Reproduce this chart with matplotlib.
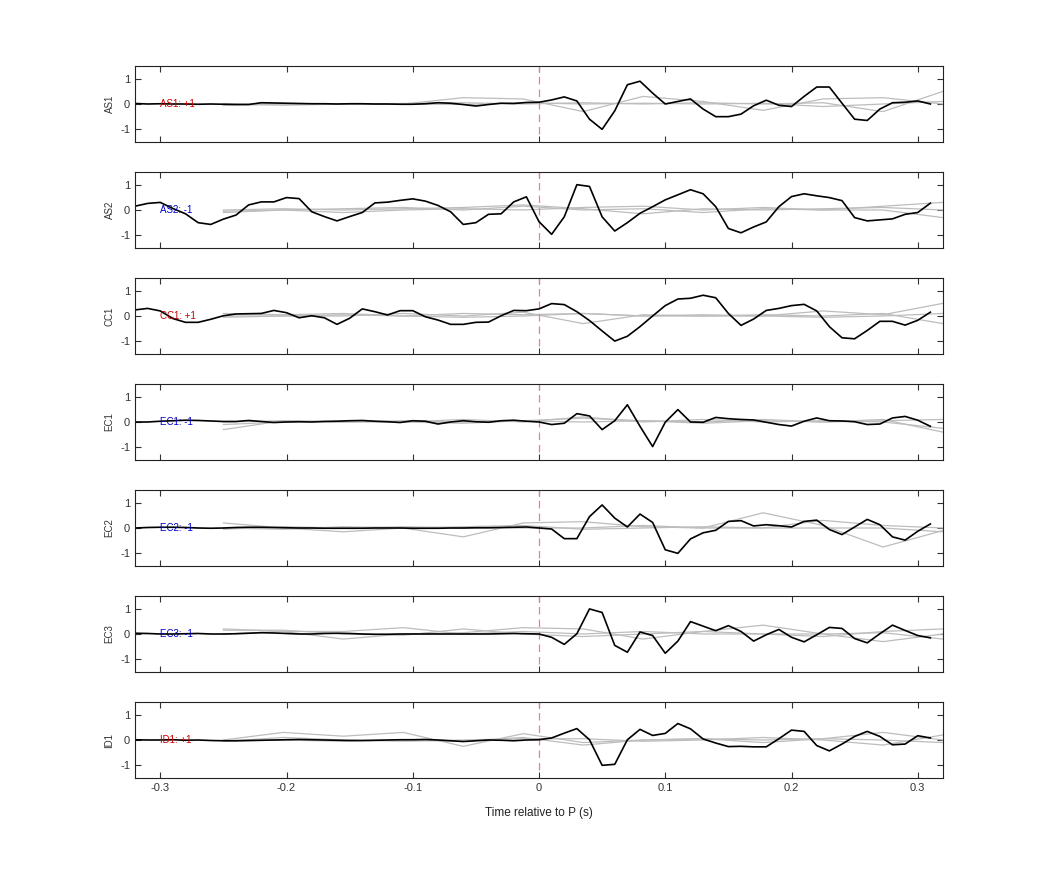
import numpy as np
import matplotlib.pyplot as plt

plt.rcParams['font.family'] = ['Liberation Sans', 'DejaVu Sans']
plt.rcParams['axes.unicode_minus'] = False

# time axis of the black traces (s), 10 ms samples
t = np.round(np.arange(-0.32, 0.315, 0.01), 2)
# time axis of the grey traces
tg = np.linspace(-0.25, 0.32, 13)

stations = ['AS1', 'AS2', 'CC1', 'EC1', 'EC2', 'EC3', 'ID1']
labels = ['AS1: +1', 'AS2: -1', 'CC1: +1', 'EC1: -1', 'EC2: -1', 'EC3: -1', 'ID1: +1']
label_colors = ['#cc0000', '#0000cc', '#cc0000', '#0000cc', '#0000cc', '#0000cc', '#cc0000']

as1 = [0.02, 0.0, 0.01, 0.0, 0.0, -0.01, 0.0, -0.01, -0.02, -0.02, 0.05, 0.04, 0.03, 0.02, 0.01, 0.01,
       0.0, 0.01, 0.01, 0.0, 0.0, -0.01, -0.01, 0.01, 0.05, 0.03, -0.02, -0.08, -0.02, 0.03, 0.02, 0.06,
       0.07, 0.16, 0.28, 0.12, -0.6, -1.0, -0.27, 0.76, 0.9, 0.43, 0.0, 0.1, 0.2, -0.2, -0.5, -0.5,
       -0.4, -0.07, 0.15, -0.05, -0.1, 0.3, 0.67, 0.67, 0.03, -0.6, -0.65, -0.2, 0.05, 0.07, 0.12, 0.0]
as2 = [0.15, 0.26, 0.3, 0.06, -0.15, -0.5, -0.57, -0.36, -0.2, 0.2, 0.32, 0.32, 0.49, 0.45, -0.07, -0.26,
       -0.43, -0.26, -0.1, 0.28, 0.31, 0.38, 0.44, 0.35, 0.18, -0.07, -0.57, -0.5, -0.17, -0.15, 0.32, 0.52,
       -0.46, -0.96, -0.27, 1.0, 0.93, -0.27, -0.83, -0.5, -0.13, 0.13, 0.4, 0.6, 0.8, 0.64, 0.13, -0.73,
       -0.9, -0.67, -0.47, 0.13, 0.53, 0.64, 0.56, 0.49, 0.37, -0.3, -0.43, -0.39, -0.35, -0.17, -0.1, 0.27]
cc1 = [0.24, 0.3, 0.2, -0.1, -0.25, -0.25, -0.13, 0.01, 0.08, 0.09, 0.1, 0.22, 0.13, -0.07, 0.01, -0.07,
       -0.33, -0.09, 0.28, 0.17, 0.04, 0.21, 0.21, -0.03, -0.16, -0.33, -0.33, -0.25, -0.24, 0.01, 0.22, 0.21,
       0.28, 0.49, 0.45, 0.17, -0.18, -0.59, -0.99, -0.8, -0.42, 0.0, 0.41, 0.67, 0.7, 0.82, 0.72, 0.1,
       -0.37, -0.12, 0.22, 0.3, 0.41, 0.46, 0.2, -0.42, -0.86, -0.9, -0.57, -0.21, -0.21, -0.36, -0.17, 0.15]
ec1 = [0.0, 0.0, 0.03, 0.05, 0.07, 0.06, 0.04, 0.02, 0.02, 0.06, 0.02, -0.02, 0.0, 0.01, 0.0, 0.02,
       0.03, 0.05, 0.06, 0.03, 0.01, -0.02, 0.05, 0.03, -0.08, 0.0, 0.05, 0.01, -0.01, 0.05, 0.07, 0.03,
       0.0, -0.1, -0.05, 0.33, 0.24, -0.3, 0.05, 0.68, -0.17, -0.97, -0.01, 0.49, 0.0, -0.01, 0.18, 0.13,
       0.1, 0.08, -0.01, -0.1, -0.16, 0.03, 0.16, 0.05, 0.04, 0.01, -0.1, -0.08, 0.16, 0.22, 0.07, -0.17]
ec2 = [0.0, 0.02, 0.03, 0.03, 0.02, 0.0, -0.01, 0.0, 0.02, 0.03, 0.03, 0.02, 0.01, 0.0, 0.0, -0.01,
       -0.01, -0.01, -0.01, 0.0, 0.0, 0.0, -0.01, -0.01, -0.01, 0.0, 0.0, 0.01, 0.01, 0.02, 0.03, 0.04,
       0.0, -0.04, -0.42, -0.42, 0.45, 0.91, 0.39, 0.04, 0.55, 0.22, -0.86, -1.0, -0.43, -0.19, -0.09, 0.26,
       0.29, 0.08, 0.13, 0.09, 0.04, 0.26, 0.31, -0.06, -0.26, 0.04, 0.34, 0.13, -0.35, -0.48, -0.13, 0.16]
ec3 = [0.03, 0.02, 0.0, 0.0, 0.01, 0.02, 0.0, 0.0, 0.01, 0.03, 0.05, 0.04, 0.02, 0.0, 0.0, 0.02,
       0.03, 0.02, 0.0, -0.01, -0.01, 0.0, 0.0, 0.0, 0.0, 0.0, 0.0, 0.0, 0.0, 0.01, 0.02, 0.01,
       0.0, -0.13, -0.41, 0.01, 0.99, 0.85, -0.45, -0.72, 0.08, -0.06, -0.76, -0.28, 0.49, 0.31, 0.13, 0.33,
       0.1, -0.28, -0.03, 0.18, -0.13, -0.31, -0.03, 0.26, 0.22, -0.18, -0.35, 0.01, 0.35, 0.14, -0.06, -0.15]
id1 = [0.01, 0.0, 0.0, 0.01, -0.01, 0.0, -0.02, -0.03, -0.03, -0.02, -0.01, 0.0, 0.01, 0.02, 0.01, 0.0,
       -0.01, -0.02, -0.02, -0.01, 0.0, 0.01, 0.01, 0.02, 0.0, -0.03, -0.06, -0.03, 0.0, -0.01, -0.03, 0.0,
       0.01, 0.08, 0.27, 0.45, 0.01, -1.0, -0.96, 0.01, 0.42, 0.18, 0.26, 0.65, 0.44, 0.04, -0.12, -0.26,
       -0.25, -0.27, -0.27, 0.05, 0.39, 0.34, -0.22, -0.43, -0.16, 0.14, 0.34, 0.14, -0.19, -0.16, 0.17, 0.08]
black = [as1, as2, cc1, ec1, ec2, ec3, id1]

# grey traces, values at tg
grey = [
    [[0.0, 0.0, 0.0, 0.0, 0.25, 0.2, -0.3, 0.3, 0.1, -0.25, 0.2, 0.25, 0.0],
     [0.0, -0.05, 0.0, 0.02, 0.05, 0.0, 0.05, 0.0, 0.05, 0.0, 0.05, -0.3, 0.5],
     [-0.05, 0.0, 0.0, 0.0, -0.02, 0.05, 0.0, 0.03, 0.0, 0.03, -0.1, 0.0, 0.1]],
    [[-0.05, 0.0, -0.1, 0.0, 0.05, 0.0, 0.1, 0.15, 0.0, 0.1, 0.0, 0.15, 0.3],
     [0.0, 0.05, 0.0, 0.05, 0.1, 0.2, 0.05, -0.15, 0.05, 0.0, 0.05, 0.1, 0.0],
     [-0.1, 0.0, 0.05, 0.1, 0.0, 0.15, 0.0, 0.05, -0.1, 0.05, 0.0, 0.0, -0.3]],
    [[0.1, 0.05, 0.1, 0.0, 0.1, 0.05, 0.1, 0.0, 0.0, 0.0, 0.2, 0.05, 0.5],
     [0.0, 0.0, 0.0, 0.1, 0.0, 0.15, -0.3, 0.05, 0.0, 0.05, 0.0, 0.1, -0.3],
     [-0.05, 0.0, 0.05, 0.0, -0.05, 0.0, 0.1, 0.0, 0.05, 0.0, -0.05, 0.0, 0.1]],
    [[-0.3, 0.05, 0.0, 0.05, 0.0, 0.05, 0.15, 0.05, -0.05, 0.05, 0.0, 0.1, -0.4],
     [-0.1, 0.0, 0.05, 0.0, 0.1, 0.0, 0.2, 0.0, 0.1, 0.0, 0.05, 0.0, -0.25],
     [0.0, 0.05, 0.0, 0.0, -0.05, 0.05, 0.0, 0.05, 0.0, 0.1, 0.0, 0.05, 0.1]],
    [[0.2, 0.0, -0.15, 0.0, -0.35, 0.2, 0.25, 0.05, 0.0, 0.6, 0.1, -0.75, -0.1],
     [-0.05, 0.05, 0.0, 0.05, 0.0, 0.0, 0.0, 0.1, 0.0, 0.0, 0.3, 0.1, 0.0],
     [0.0, -0.05, 0.05, 0.0, 0.05, 0.1, -0.05, 0.0, 0.05, 0.0, 0.0, 0.0, -0.15]],
    [[0.2, 0.1, -0.2, 0.0, 0.05, 0.25, 0.2, -0.2, 0.1, 0.35, 0.0, -0.3, 0.0],
     [0.0, 0.1, 0.1, 0.25, 0.0, 0.1, 0.0, 0.1, 0.0, 0.0, 0.0, 0.05, -0.2],
     [0.15, 0.15, 0.0, -0.05, 0.2, 0.0, -0.1, 0.0, 0.1, 0.0, -0.1, 0.1, 0.2]],
    [[0.0, 0.3, 0.15, 0.3, -0.25, 0.25, -0.1, 0.0, 0.05, -0.1, 0.05, 0.3, 0.0],
     [-0.05, 0.1, 0.0, -0.05, 0.0, 0.05, 0.05, -0.05, 0.0, 0.1, 0.0, -0.2, 0.2],
     [-0.05, 0.0, -0.05, 0.0, -0.05, 0.1, -0.2, 0.0, 0.05, 0.0, 0.05, 0.0, -0.1]],
]

fig = plt.figure(figsize=(10.42, 8.75), dpi=100)
for i in range(7):
    bottom = 1 - (142 + 106 * i) / 875
    ax = fig.add_axes([135 / 1042, bottom, 808 / 1042, 76 / 875])
    for g in grey[i]:
        ax.plot(tg, g, color='#bdbdbd', lw=0.9)
    ax.axvline(0, ymin=0.1, ymax=1, color='#f08080', lw=0.9, ls=(0, (6, 4)))
    ax.plot(t, black[i], color='black', lw=1.2)
    ax.text(-0.3, 0, labels[i], color=label_colors[i], fontsize=7, va='center', ha='left')
    ax.set_xlim(-0.32, 0.32)
    ax.set_ylim(-1.5, 1.5)
    ax.set_yticks([-1, 0, 1])
    ax.set_xticks([-0.3, -0.2, -0.1, 0, 0.1, 0.2, 0.3])
    ax.tick_params(direction='in', top=True, right=True, labelsize=8, colors='#333333',
                   length=4)
    ax.set_ylabel(stations[i], fontsize=7, color='#333333')
    for s in ax.spines.values():
        s.set_color('#222222')
    if i < 6:
        ax.set_xticklabels([])
    else:
        ax.set_xticklabels(['-0.3', '-0.2', '-0.1', '0', '0.1', '0.2', '0.3'])
        ax.set_xlabel('Time relative to P (s)', fontsize=8.5, color='#222222', labelpad=10)

plt.savefig('out.png', dpi=100)
